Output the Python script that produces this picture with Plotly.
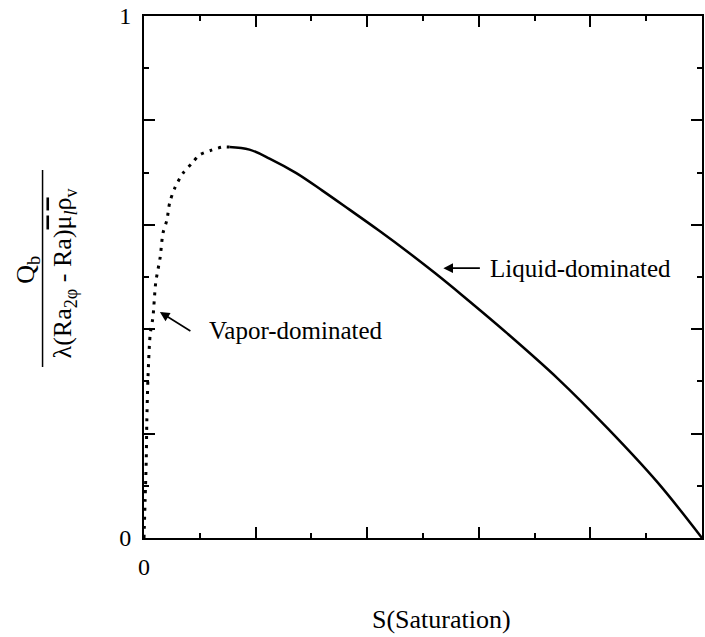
import plotly.graph_objects as go

# Vapor-dominated branch (dotted), S vs dimensionless heat flux
s_vapor = [0.0, 0.002, 0.004, 0.005, 0.007, 0.011, 0.016, 0.021, 0.029, 0.034,
           0.041, 0.046, 0.055, 0.070, 0.086, 0.100, 0.121, 0.141, 0.153]
q_vapor = [0.0, 0.073, 0.149, 0.220, 0.303, 0.389, 0.423, 0.489, 0.538, 0.584,
           0.609, 0.642, 0.670, 0.699, 0.718, 0.734, 0.743, 0.749, 0.749]

# Liquid-dominated branch (solid)
s_liquid = [0.153, 0.189, 0.225, 0.273, 0.319, 0.367, 0.421, 0.474, 0.522,
            0.569, 0.652, 0.742, 0.831, 0.920, 1.0]
q_liquid = [0.749, 0.744, 0.727, 0.699, 0.666, 0.630, 0.589, 0.547, 0.507,
            0.466, 0.391, 0.305, 0.210, 0.107, 0.0]

x_major = [0.0, 0.2, 0.4, 0.6, 0.8, 1.0]
x_major_text = ["0", "", "", "", "", ""]
y_major = [0.0, 0.2, 0.4, 0.6, 0.8, 1.0]
y_major_text = ["0", "", "", "", "", "1"]
minor_vals = [0.1, 0.3, 0.5, 0.7, 0.9]

SERIF = "Liberation Serif, Times New Roman, serif"

fig = go.Figure()
fig.add_trace(go.Scatter(x=s_vapor, y=q_vapor, mode="lines",
                         line=dict(color="black", width=3, dash="3px,6px",
                                   shape="spline", smoothing=0.8),
                         showlegend=False, hoverinfo="skip"))
fig.add_trace(go.Scatter(x=s_liquid, y=q_liquid, mode="lines",
                         line=dict(color="black", width=2.5, shape="spline", smoothing=1.0),
                         showlegend=False, hoverinfo="skip"))

axis_common = dict(showgrid=False, zeroline=False, showline=True, linecolor="black",
                   linewidth=2, mirror="ticks", ticks="inside", ticklen=11,
                   tickwidth=1.5, tickcolor="black",
                   tickfont=dict(family=SERIF, size=24, color="black"))

fig.update_xaxes(range=[0, 1], tickmode="array", tickvals=x_major, ticktext=x_major_text,
                 minor=dict(tickvals=minor_vals, ticks="inside", ticklen=5,
                            tickwidth=1.5, tickcolor="black"),
                 ticklabelstandoff=6, **axis_common)
fig.update_yaxes(range=[0, 1], tickmode="array", tickvals=y_major, ticktext=y_major_text,
                 minor=dict(tickvals=minor_vals, ticks="inside", ticklen=5,
                            tickwidth=1.5, tickcolor="black"),
                 ticklabelstandoff=6, **axis_common)

font_lbl = dict(family=SERIF, size=25, color="black")

OVER = '<span style="text-decoration:overline">{}</span>'
denominator = ("λ(Ra<sub>2φ</sub> - Ra)" + OVER.format("μ") + "<sub><i>l</i></sub>"
               + OVER.format("ρ") + "<sub>v</sub>")

annotations = [
    # curve labels with arrows
    dict(x=0.0285, y=0.433, xref="x", yref="y", text="", showarrow=True,
         ax=32, ay=20, arrowhead=2, arrowsize=1.2, arrowwidth=1.6, arrowcolor="black"),
    dict(x=0.112, y=0.398, xref="x", yref="y", text="Vapor-dominated",
         showarrow=False, xanchor="left", yanchor="middle", font=font_lbl),
    dict(x=0.5365, y=0.517, xref="x", yref="y", text="", showarrow=True,
         ax=38, ay=0, arrowhead=2, arrowsize=1.2, arrowwidth=1.6, arrowcolor="black"),
    dict(x=0.617, y=0.517, xref="x", yref="y", text="Liquid-dominated",
         showarrow=False, xanchor="left", yanchor="middle", font=font_lbl),
    # x-axis title
    dict(x=0.533, y=-0.157, xref="paper", yref="paper", text="S(Saturation)",
         showarrow=False, xanchor="center", yanchor="middle",
         font=dict(family=SERIF, size=26, color="black")),
    # y-axis title as a stacked fraction
    dict(x=-0.2086, y=0.513, xref="paper", yref="paper", text="Q<sub>b</sub>",
         showarrow=False, textangle=-90, xanchor="center", yanchor="middle",
         font=dict(family=SERIF, size=26, color="black")),
    dict(x=-0.1426, y=0.5077, xref="paper", yref="paper", text=denominator,
         showarrow=False, textangle=-90, xanchor="center", yanchor="middle",
         font=dict(family=SERIF, size=26, color="black")),
]

fig.update_layout(
    width=705, height=637,
    margin=dict(l=144, r=1, t=16, b=99),
    paper_bgcolor="white", plot_bgcolor="white",
    annotations=annotations,
    shapes=[dict(type="line", xref="paper", yref="paper",
                 x0=-0.1818, x1=-0.1818, y0=0.3276, y1=0.705,
                 line=dict(color="black", width=1.5))],
)

fig.write_html("out.html")
